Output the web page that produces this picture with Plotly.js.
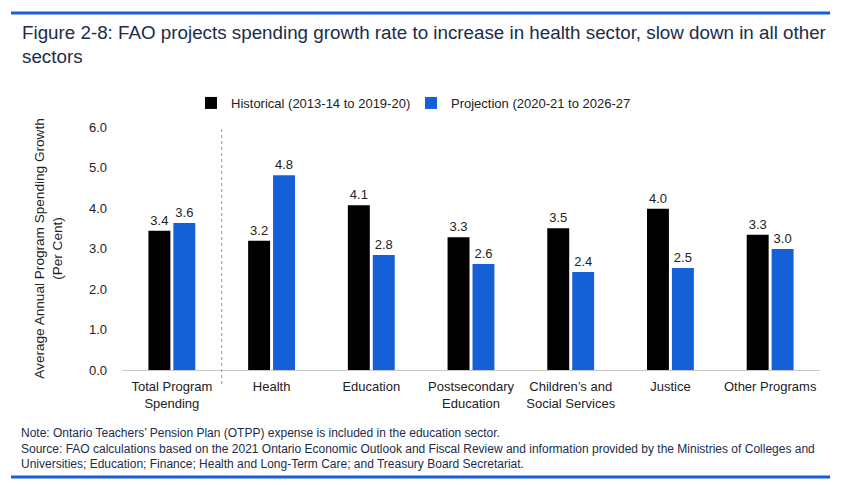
<!DOCTYPE html>
<html>
<head>
<meta charset="utf-8">
<script src="https://cdn.plot.ly/plotly-3.0.1.min.js"></script>
<style>html,body{margin:0;padding:0;background:#fff;}#chart{width:850px;height:485px;}</style>
</head>
<body>
<div id="chart"></div>
<script>
const categories = ["Total Program<br>Spending", "Health", "Education", "Postsecondary<br>Education", "Children’s and<br>Social Services", "Justice", "Other Programs"];
const historical = [3.44, 3.19, 4.07, 3.28, 3.50, 3.98, 3.34];
const projection = [3.63, 4.81, 2.84, 2.62, 2.42, 2.52, 2.99];
const seriesNames = ["Historical (2013-14 to 2019-20)", "Projection (2020-21 to 2026-27)"];
const yTicks = [0, 1, 2, 3, 4, 5, 6];
const yTickText = ["0.0", "1.0", "2.0", "3.0", "4.0", "5.0", "6.0"];

const FONT = "Liberation Sans, Arial, sans-serif";
const BLUE = "#1560d6";
const NAVY = "#1c2b4a";

// plot area geometry for paper coords
const L = 122, R = 820, T = 127, B = 370;
const px = x => (x - L) / (R - L);
const py = y => (B - y) / (B - T);

const traces = [
  {type: "bar", name: seriesNames[0], x: categories, y: historical,
   marker: {color: "#000000"}, texttemplate: "%{y:.1f}", textposition: "outside",
   textfont: {size: 13, color: "#222", family: FONT}, cliponaxis: false, hoverinfo: "skip"},
  {type: "bar", name: seriesNames[1], x: categories, y: projection,
   marker: {color: BLUE}, texttemplate: "%{y:.1f}", textposition: "outside",
   textfont: {size: 13, color: "#222", family: FONT}, cliponaxis: false, hoverinfo: "skip"}
];

const layout = {
  width: 850, height: 485,
  margin: {l: L, r: 850 - R, t: T, b: 485 - B, pad: 0},
  paper_bgcolor: "#fff", plot_bgcolor: "#fff",
  font: {family: FONT, size: 13, color: "#222"},
  barmode: "group", bargap: 0.5, bargroupgap: 0.12,
  title: {text: "Figure 2-8: FAO projects spending growth rate to increase in health sector, slow down in all other<br>sectors",
          xref: "container", yref: "container", x: 22/850, xanchor: "left", y: 1 - 39/485, yanchor: "top",
          font: {family: FONT, size: 18.8, color: NAVY}},
  showlegend: true,
  legend: {orientation: "h", x: px(191), xanchor: "left", y: py(103), yanchor: "middle",
           font: {size: 13, color: "#222", family: FONT}, traceorder: "normal", entrywidth: 175, entrywidthmode: "pixels",
           itemclick: false, bgcolor: "rgba(0,0,0,0)"},
  xaxis: {type: "category", showline: true, linecolor: "#c8c8c8", linewidth: 1, ticks: "", showgrid: false,
          ticklabelstandoff: 4, tickfont: {size: 13, color: "#222"}, fixedrange: true},
  yaxis: {range: [0, 6], tickvals: yTicks, ticktext: yTickText, showgrid: false, zeroline: false, showline: false,
          ticks: "", ticklabelstandoff: 14, tickfont: {size: 13, color: "#222"}, fixedrange: true,
          title: {text: "Average Annual Program Spending Growth<br>(Per Cent)", standoff: 23, font: {size: 13.6, color: "#222"}}},
  shapes: [
    {type: "line", xref: "x", yref: "paper", x0: 0.5, x1: 0.5, y0: py(384), y1: py(127),
     line: {color: "#999", width: 1, dash: "3px,3px"}},
    {type: "line", xref: "paper", yref: "paper", x0: px(11), x1: px(830), y0: py(13), y1: py(13),
     line: {color: BLUE, width: 3}},
    {type: "line", xref: "paper", yref: "paper", x0: px(11), x1: px(830), y0: py(477), y1: py(477),
     line: {color: BLUE, width: 3}}
  ],
  annotations: [
    {xref: "paper", yref: "paper", x: px(19), y: py(424), xanchor: "left", yanchor: "top", align: "left",
     showarrow: false, font: {family: FONT, size: 12, color: NAVY},
     text: "Note: Ontario Teachers’ Pension Plan (OTPP) expense is included in the education sector.<br>Source: FAO calculations based on the 2021 Ontario Economic Outlook and Fiscal Review and information provided by the Ministries of Colleges and<br>Universities; Education; Finance; Health and Long-Term Care; and Treasury Board Secretariat."}
  ]
};

Plotly.newPlot("chart", traces, layout, {displayModeBar: false, staticPlot: true});
</script>
</body>
</html>
